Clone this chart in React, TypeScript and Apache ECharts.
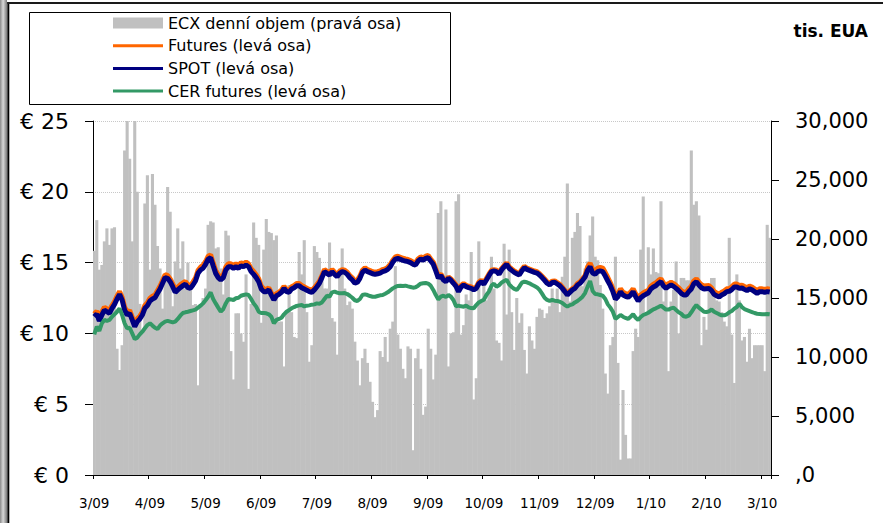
import React, { useEffect, useRef } from "react";
import * as echarts from "echarts";

const MONTH_LABELS = ["3/09", "4/09", "5/09", "6/09", "7/09", "8/09", "9/09", "10/09", "11/09", "12/09", "1/10", "2/10", "3/10"];
const DAYS_PER_TICK = 22;

const SERIES_NAMES = ["ECX denní objem (pravá osa)", "Futures (levá osa)", "SPOT (levá osa)", "CER futures (levá osa)"];

const LEFT_TICK_LABELS = ["€ 0", "€ 5", "€ 10", "€ 15", "€ 20", "€ 25"];
const RIGHT_TICK_LABELS = [",0", "5,000", "10,000", "15,000", "20,000", "25,000", "30,000"];

// ECX daily volume, thousand EUA (right axis)
const VOLUME = [
  19000, 21600, 17400, 17800, 19800, 20900, 19500, 20900, 21000, 10700, 8900, 11000, 27500, 30000, 26800, 19800, 30000, 24000, 14500, 12100,
  23000, 25400, 17400, 25500, 22900, 19400, 17500, 14100, 17000, 24400, 22300, 14300, 18100, 20900, 17500, 19800, 15800, 18000, 16100, 14400,
  14500, 7600, 14300, 15000, 15800, 21200, 21500, 21400, 19200, 19300, 17500, 15300, 20700, 20300, 10500, 8100, 13700, 13700, 12000, 11300,
  17000, 7300, 14500, 21400, 20100, 19500, 12900, 19100, 21700, 20600, 20500, 19900, 20300, 13000, 13000, 9200, 13800, 16100, 13800, 11700,
  11600, 18900, 17000, 19900, 13800, 9600, 11000, 19400, 18900, 18400, 16700, 15800, 15800, 19700, 13300, 13000, 10200, 17500, 19200, 15800,
  14400, 14700, 14100, 11300, 9700, 7600, 9900, 10700, 9500, 7900, 6200, 4900, 5500, 10500, 10000, 11700, 9600, 12400, 13000, 17700,
  11900, 10700, 9000, 8200, 10900, 10700, 2100, 9900, 10700, 9000, 5100, 5800, 12400, 10700, 8100, 10200, 22200, 23200, 16400, 22500,
  9200, 12000, 12100, 23200, 23800, 11900, 12700, 15300, 14800, 18900, 6400, 8200, 19800, 14700, 16400, 14800, 15800, 18500, 15800, 11400,
  11200, 9700, 19600, 13600, 19100, 13800, 10600, 15000, 12900, 13700, 10600, 8600, 12600, 11400, 10700, 13400, 14100, 14000, 13300, 13700,
  14300, 15800, 14800, 15800, 13800, 16800, 18500, 24700, 14700, 20100, 20600, 22200, 21100, 16000, 17500, 18100, 20300, 21900, 18500, 18200,
  16100, 14100, 8600, 6900, 11000, 11700, 18500, 9500, 1300, 7200, 3400, 1400, 1400, 10500, 12400, 11700, 19100, 23600, 13800, 19300,
  17000, 19200, 17200, 17100, 23200, 14700, 16100, 8800, 14700, 15700, 18100, 12000, 16700, 16700, 16500, 16500, 27500, 22900, 23200, 22000,
  11000, 13400, 12300, 15800, 16700, 16700, 14800, 14700, 13800, 13000, 12600, 20100, 11900, 7800, 17000, 14800, 11400, 11700, 9600, 12400,
  9900, 11000, 11000, 11000, 11000, 8800, 21200, 20100,
];

// EUA futures price, EUR (left axis)
const FUTURES = [
  11.38, 11.57, 11.08, 11.5, 11.85, 11.73, 11.62, 11.97, 12.25, 12.63, 12.96, 12.56, 11.85, 11.5, 11.62, 11.15, 10.68, 11.03, 11.22, 11.5,
  11.97, 12.16, 12.49, 12.63, 12.72, 13.03, 13.34, 13.74, 14.14, 14.09, 13.85, 13.5, 13.1, 13.27, 13.43, 13.57, 13.67, 13.43, 13.38, 13.62,
  13.9, 14.44, 14.68, 14.8, 15.08, 15.45, 15.55, 14.98, 14.44, 14.14, 13.97, 14.14, 14.68, 14.91, 14.91, 14.8, 14.91, 14.8, 14.98, 14.91,
  15.03, 14.91, 14.56, 14.37, 14.14, 13.85, 13.34, 13.15, 13.1, 13.22, 12.86, 12.51, 12.81, 12.91, 13.05, 13.33, 13.1, 13.05, 13.29, 13.38,
  13.52, 13.52, 13.38, 13.29, 13.19, 13.1, 13.05, 13.22, 13.45, 13.69, 14.09, 14.51, 14.39, 14.27, 14.51, 14.32, 14.15, 14.39, 14.51, 14.46,
  14.32, 14.09, 13.92, 13.69, 13.76, 14.04, 14.46, 14.63, 14.51, 14.44, 14.36, 14.32, 14.36, 14.41, 14.51, 14.56, 14.67, 14.86, 15.17, 15.4,
  15.45, 15.38, 15.31, 15.26, 15.22, 15.15, 15.03, 14.98, 15.26, 15.4, 15.33, 15.45, 15.5, 15.26, 15.03, 14.56, 14.05, 14.2, 13.87, 13.75,
  13.99, 13.85, 13.64, 13.42, 13.05, 13.38, 13.52, 13.4, 13.33, 13.28, 13.17, 13.28, 13.61, 13.75, 13.57, 13.87, 14.18, 14.46, 14.51, 14.46,
  14.27, 14.58, 14.79, 14.98, 14.7, 14.55, 14.41, 14.31, 14.22, 14.51, 14.74, 14.62, 14.55, 14.48, 14.41, 14.36, 14.22, 14.04, 13.85, 13.64,
  13.52, 13.69, 13.71, 13.59, 13.47, 13.28, 13.05, 12.81, 13.0, 13.17, 13.28, 13.52, 13.64, 13.85, 14.08, 14.7, 14.96, 14.51, 14.42, 14.61,
  14.66, 14.61, 14.3, 13.95, 13.57, 13.15, 12.61, 12.79, 13.15, 12.91, 12.82, 12.75, 12.91, 13.15, 12.79, 12.49, 12.72, 12.86, 12.96, 13.05,
  13.34, 13.48, 13.57, 13.74, 13.85, 13.55, 13.38, 13.52, 13.62, 13.52, 13.38, 13.22, 13.03, 12.91, 12.91, 13.15, 13.34, 13.71, 13.85, 13.62,
  13.43, 13.34, 13.36, 13.38, 13.22, 12.96, 12.86, 12.77, 12.91, 13.0, 13.15, 13.17, 13.29, 13.48, 13.48, 13.38, 13.41, 13.31, 13.22, 13.34,
  13.27, 13.15, 13.03, 13.15, 13.15, 13.1, 13.15, 13.12,
];

// EUA spot price, EUR (left axis)
const SPOT = [
  11.18, 11.37, 10.88, 11.3, 11.65, 11.53, 11.42, 11.77, 12.05, 12.43, 12.76, 12.36, 11.65, 11.3, 11.42, 10.95, 10.48, 10.83, 11.02, 11.3,
  11.77, 11.96, 12.29, 12.43, 12.52, 12.83, 13.14, 13.54, 13.94, 13.89, 13.65, 13.3, 12.9, 13.07, 13.23, 13.37, 13.47, 13.23, 13.18, 13.42,
  13.7, 14.24, 14.48, 14.6, 14.88, 15.25, 15.35, 14.78, 14.24, 13.94, 13.77, 13.94, 14.48, 14.71, 14.71, 14.6, 14.71, 14.6, 14.78, 14.71,
  14.83, 14.71, 14.36, 14.17, 13.94, 13.65, 13.14, 12.95, 12.95, 13.07, 12.71, 12.36, 12.66, 12.76, 12.9, 13.18, 12.95, 12.9, 13.14, 13.23,
  13.37, 13.37, 13.23, 13.14, 13.04, 12.95, 12.9, 13.07, 13.3, 13.54, 13.94, 14.36, 14.24, 14.12, 14.36, 14.17, 14.0, 14.24, 14.36, 14.31,
  14.17, 13.94, 13.77, 13.54, 13.61, 13.89, 14.31, 14.48, 14.36, 14.29, 14.21, 14.17, 14.21, 14.26, 14.36, 14.41, 14.52, 14.71, 15.02, 15.25,
  15.3, 15.23, 15.16, 15.11, 15.07, 15.0, 14.88, 14.83, 15.11, 15.25, 15.18, 15.3, 15.35, 15.11, 14.88, 14.41, 13.9, 14.1, 13.77, 13.65,
  13.89, 13.75, 13.54, 13.32, 12.95, 13.28, 13.42, 13.3, 13.23, 13.18, 13.07, 13.18, 13.51, 13.65, 13.47, 13.77, 14.08, 14.36, 14.41, 14.36,
  14.17, 14.48, 14.69, 14.88, 14.6, 14.45, 14.31, 14.21, 14.12, 14.41, 14.64, 14.52, 14.45, 14.38, 14.31, 14.26, 14.12, 13.94, 13.75, 13.54,
  13.42, 13.59, 13.61, 13.49, 13.37, 13.18, 12.95, 12.71, 12.9, 13.07, 13.18, 13.42, 13.54, 13.75, 13.98, 14.45, 14.71, 14.26, 14.17, 14.36,
  14.41, 14.36, 14.05, 13.7, 13.37, 12.95, 12.41, 12.59, 12.95, 12.71, 12.62, 12.55, 12.71, 12.95, 12.59, 12.29, 12.52, 12.66, 12.76, 12.85,
  13.14, 13.28, 13.37, 13.54, 13.65, 13.35, 13.18, 13.32, 13.42, 13.32, 13.18, 13.02, 12.83, 12.71, 12.71, 12.95, 13.14, 13.51, 13.65, 13.42,
  13.23, 13.14, 13.16, 13.18, 13.02, 12.76, 12.66, 12.57, 12.71, 12.8, 12.95, 12.97, 13.09, 13.28, 13.28, 13.18, 13.21, 13.11, 13.02, 13.14,
  13.07, 12.95, 12.83, 12.95, 12.95, 12.9, 12.95, 12.92,
];

// CER futures price, EUR (left axis)
const CER = [
  9.93, 10.48, 10.17, 10.71, 10.95, 10.88, 10.95, 11.18, 11.35, 11.53, 11.77, 11.3, 10.71, 10.36, 10.4, 10.0, 9.6, 9.7, 9.93, 10.12,
  10.36, 10.59, 10.71, 10.55, 10.4, 10.31, 10.55, 10.71, 10.83, 10.88, 10.83, 10.78, 10.83, 11.02, 11.25, 11.44, 11.49, 11.53, 11.58, 11.63,
  11.68, 11.82, 11.96, 12.12, 12.34, 12.59, 12.9, 12.43, 12.12, 11.82, 11.53, 11.72, 12.12, 12.43, 12.4, 12.36, 12.48, 12.52, 12.66, 12.71,
  12.76, 12.71, 12.43, 12.12, 11.89, 11.53, 11.44, 11.44, 11.42, 11.35, 11.18, 10.71, 10.95, 11.02, 11.11, 11.35, 11.53, 11.65, 11.77, 11.86,
  11.94, 11.98, 12.0, 11.91, 11.96, 11.98, 12.03, 12.05, 12.12, 12.1, 12.19, 12.43, 12.66, 12.59, 12.9, 12.95, 12.88, 12.83, 12.83, 12.85,
  12.78, 12.66, 12.52, 12.34, 12.29, 12.43, 12.71, 12.76, 12.71, 12.64, 12.59, 12.59, 12.64, 12.69, 12.71, 12.8, 12.9, 13.04, 13.18, 13.28,
  13.35, 13.37, 13.35, 13.37, 13.32, 13.28, 13.23, 13.26, 13.37, 13.51, 13.54, 13.56, 13.51, 13.37, 13.07, 12.71, 12.4, 12.59, 12.66, 12.57,
  12.71, 12.59, 12.34, 11.91, 11.96, 11.91, 11.89, 11.96, 11.84, 11.79, 11.77, 12.0, 12.19, 12.29, 12.38, 12.71, 12.95, 13.37, 13.51, 13.3,
  13.4, 13.58, 13.7, 13.79, 13.47, 13.28, 13.14, 13.07, 13.3, 13.58, 13.65, 13.61, 13.54, 13.44, 13.35, 13.25, 13.07, 12.81, 12.52, 12.36,
  12.29, 12.36, 12.31, 12.29, 12.24, 12.15, 12.0, 11.89, 12.0, 12.05, 12.19, 12.29, 12.43, 12.59, 12.85, 13.3, 13.7, 12.99, 12.78, 12.76,
  12.71, 12.66, 12.43, 12.05, 11.82, 11.53, 11.02, 11.16, 11.3, 11.18, 11.09, 11.02, 11.18, 11.35, 11.11, 10.95, 11.16, 11.3, 11.37, 11.46,
  11.58, 11.7, 11.77, 11.86, 11.96, 11.82, 11.68, 11.68, 11.77, 11.82, 11.65, 11.49, 11.39, 11.21, 11.18, 11.25, 11.49, 11.77, 12.0, 11.82,
  11.68, 11.53, 11.51, 11.56, 11.7, 11.53, 11.44, 11.35, 11.28, 11.28, 11.35, 11.49, 11.58, 11.75, 11.86, 12.1, 11.86, 11.72, 11.65, 11.58,
  11.51, 11.44, 11.39, 11.37, 11.35, 11.35, 11.37, 11.35,
];

// one category per trading day; the first day of each 22-day block carries the month label
const CATEGORIES = VOLUME.map((_, i) =>
  i % DAYS_PER_TICK === 0 ? MONTH_LABELS[i / DAYS_PER_TICK] : `${MONTH_LABELS[Math.floor(i / DAYS_PER_TICK)]}#${i % DAYS_PER_TICK}`
);

const FONT = "'DejaVu Sans', Verdana, sans-serif";
const LINE_ICON = "path://M0,0H50V3H0Z";

export default function App() {
  const ref = useRef<HTMLDivElement>(null);

  useEffect(() => {
    if (!ref.current) return;
    const chart = echarts.init(ref.current, undefined, { renderer: "svg" });
    chart.setOption({
      animation: false,
      backgroundColor: "#ffffff",
      textStyle: { fontFamily: FONT, color: "#000" },
      grid: { left: 93, right: 112, top: 121, bottom: 48, containLabel: false },
      legend: {
        orient: "vertical",
        left: 108,
        top: 8,
        itemWidth: 50,
        itemHeight: 11,
        itemGap: 2.7,
        selectedMode: false,
        textStyle: { fontFamily: FONT, fontSize: 16, color: "#000", lineHeight: 20 },
        data: [
          { name: SERIES_NAMES[0], icon: "rect" },
          { name: SERIES_NAMES[1], icon: LINE_ICON },
          { name: SERIES_NAMES[2], icon: LINE_ICON },
          { name: SERIES_NAMES[3], icon: LINE_ICON },
        ],
      },
      xAxis: {
        type: "category",
        data: CATEGORIES,
        boundaryGap: true,
        axisLine: { show: true, lineStyle: { color: "#000", width: 1 } },
        axisTick: { show: true, interval: DAYS_PER_TICK - 1, length: 4, lineStyle: { color: "#000" } },
        axisLabel: {
          interval: DAYS_PER_TICK - 1,
          margin: 21,
          fontFamily: FONT,
          fontSize: 13.5,
          color: "#000",
          formatter: (v: string) => (v.includes("#") ? "" : v),
        },
        splitLine: { show: false },
      },
      yAxis: [
        {
          type: "value",
          position: "left",
          min: 0,
          max: 25,
          interval: 5,
          axisLine: { show: true, lineStyle: { color: "#000", width: 1 } },
          axisTick: { show: true, length: 8, lineStyle: { color: "#000" } },
          axisLabel: {
            margin: 24,
            fontFamily: FONT,
            fontSize: 22,
            color: "#000",
            formatter: (v: number) => LEFT_TICK_LABELS[Math.round(v / 5)],
          },
          splitLine: { show: true, lineStyle: { color: "#c8c8c8", type: "dotted", width: 1 } },
        },
        {
          type: "value",
          position: "right",
          min: 0,
          max: 30000,
          interval: 5000,
          axisLine: { show: true, lineStyle: { color: "#000", width: 1 } },
          axisTick: { show: true, length: 8, lineStyle: { color: "#000" } },
          axisLabel: {
            margin: 24,
            fontFamily: FONT,
            fontSize: 21,
            color: "#000",
            formatter: (v: number) => RIGHT_TICK_LABELS[Math.round(v / 5000)],
          },
          splitLine: { show: false },
        },
      ],
      series: [
        {
          name: SERIES_NAMES[0],
          type: "bar",
          yAxisIndex: 1,
          data: VOLUME,
          barWidth: 3.1,
          clip: true,
          itemStyle: { color: "#C0C0C0" },
          emphasis: { disabled: true },
        },
        {
          name: SERIES_NAMES[1],
          type: "line",
          yAxisIndex: 0,
          data: FUTURES,
          symbol: "none",
          color: "#FF6600",
          lineStyle: { color: "#FF6600", width: 5 },
        },
        {
          name: SERIES_NAMES[2],
          type: "line",
          yAxisIndex: 0,
          data: SPOT,
          symbol: "none",
          color: "#000080",
          lineStyle: { color: "#000080", width: 5 },
        },
        {
          name: SERIES_NAMES[3],
          type: "line",
          yAxisIndex: 0,
          data: CER,
          symbol: "none",
          color: "#339966",
          lineStyle: { color: "#339966", width: 4 },
        },
      ],
      graphic: [
        {
          type: "rect",
          shape: { x: 0, y: 0, width: 7, height: 523 },
          style: {
            fill: new echarts.graphic.LinearGradient(0, 0, 1, 0, [
              { offset: 0, color: "#8a8a8a" },
              { offset: 0.45, color: "#d8d8d8" },
              { offset: 1, color: "#7a7a7a" },
            ]),
          },
          silent: true,
        },
        { type: "rect", shape: { x: 7.3, y: 2, width: 2, height: 521 }, style: { fill: "#000" }, silent: true },
        { type: "rect", shape: { x: 7.3, y: 2, width: 876, height: 2 }, style: { fill: "#1a1a1a" }, silent: true },
        {
          type: "rect",
          shape: { x: 29.5, y: 12.5, width: 421, height: 92 },
          style: { fill: "none", stroke: "#000", lineWidth: 1 },
          silent: true,
        },
        {
          type: "text",
          right: 15,
          top: 22,
          style: { text: "tis. EUA", font: `bold 17px ${FONT}`, fill: "#000" },
          silent: true,
        },
      ],
    });
    return () => chart.dispose();
  }, []);

  return (
    <div
      ref={ref}
      style={{ position: "fixed", left: 0, top: 0, width: 883, height: 523, background: "#fff" }}
    />
  );
}
